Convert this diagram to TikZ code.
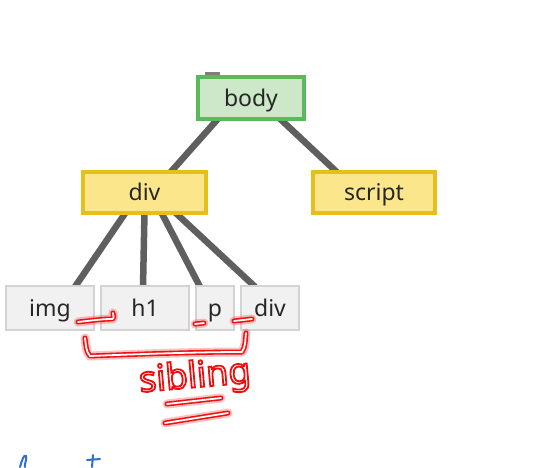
\documentclass[tikz,border=0pt]{standalone}
\usepackage{fontspec}
\setmainfont{Noto Sans}
\newfontfamily\handfont{Noto Sans}
\usetikzlibrary{calc}
\pgfdeclarelayer{bg}\pgfsetlayers{bg,main}
\definecolor{gfill}{HTML}{CDE8C9}
\definecolor{gdraw}{HTML}{5CB85C}
\definecolor{yfill}{HTML}{FCE68C}
\definecolor{ydraw}{HTML}{E6BF1A}
\definecolor{lfill}{HTML}{F1F1F1}
\definecolor{ldraw}{HTML}{D3D3D3}
\definecolor{edgec}{HTML}{5F5F5F}
\definecolor{glowred}{HTML}{F01010}
\definecolor{inkblue}{HTML}{2E6FD0}
\newcommand{\outlinedtext}[1]{\special{pdf:code 2 Tr 1.8 w 0.94 0.06 0.06 RG}#1\special{pdf:code 0 Tr}}
\tikzset{
  box/.style={rectangle, inner sep=0pt, font=\fontsize{23}{26}\selectfont, text=black!85, text height=22pt, text depth=6pt},
  greenbox/.style={box, fill=gfill, draw=gdraw, line width=3.5pt},
  yellowbox/.style={box, fill=yfill, draw=ydraw, line width=3.5pt},
  graybox/.style={box, fill=lfill, draw=ldraw, line width=2.5pt},
  edge/.style={draw=edgec, line width=6.5pt},
  glowa/.style={draw=glowred, line width=9pt, opacity=0.25, line cap=round, line join=round},
  glowb/.style={draw=glowred, line width=5pt, line cap=round, line join=round},
  glowc/.style={draw=white, line width=1.8pt, line cap=round, line join=round},
}
\begin{document}
\begin{tikzpicture}[x=1pt,y=-1pt]
\useasboundingbox (0,0) rectangle (539,467);
% nodes
\node[greenbox, minimum width=106pt, minimum height=42pt] (body) at (251,98) {body};
\node[yellowbox, minimum width=123pt, minimum height=41pt] (div) at (144.5,192.5) {div};
\node[yellowbox, minimum width=122pt, minimum height=41pt] (script) at (374,192.5) {script};
\node[graybox, minimum width=88pt, minimum height=44pt] (img) at (50,308) {img};
\node[graybox, minimum width=88pt, minimum height=44pt] (h1) at (145,308) {h1};
\node[graybox, minimum width=38pt, minimum height=44pt] (p) at (215,308) {p};
\node[graybox, minimum width=58pt, minimum height=44pt] (div2) at (270,308) {div};
% edges (behind nodes)
\begin{pgfonlayer}{bg}
\fill[white] (0,0) rectangle (539,467);
\draw[edgec!80, line width=3pt] ($(body.north west)+(9,-2)$) -- ($(body.north west)+(24,-2)$);
\draw[edge] ($(body.south)+(-33,-2)$) -- ($(div.north)+(26,2)$);
\draw[edge] ($(body.south)+(29,-2)$) -- ($(script.north)+(-37,2)$);
\draw[edge] ($(div.south)+(-19,-2)$) -- ($(img.north)+(25,2)$);
\draw[edge] ($(div.south)+(0,-2)$) -- ($(h1.north)+(-2,2)$);
\draw[edge] ($(div.south)+(17,-2)$) -- ($(p.north)+(-15,2)$);
\draw[edge] ($(div.south)+(31,-2)$) -- ($(div2.north)+(-15,2)$);
\end{pgfonlayer}
% red hand annotations
\coordinate (u1a) at (78,322);
\coordinate (u1b) at (113,313);
\coordinate (u2a) at (195,324);
\coordinate (u2b) at (204,323);
\coordinate (u3a) at (234,321);
\coordinate (u3b) at (252,319);
\coordinate (bra) at (85,338);
\coordinate (brb) at (246,333);
\coordinate (ul1a) at (167,404);
\coordinate (ul1b) at (221,398);
\coordinate (ul2a) at (165,423);
\coordinate (ul2b) at (228,413);
\foreach \s in {glowa,glowb,glowc}{
  \draw[\s] (u1a) .. controls (95,320) and (105,319) .. (110,319) .. controls (114,319) .. (u1b);
  \draw[\s] (u2a) -- (u2b);
  \draw[\s] (u3a) -- (u3b);
  \draw[\s] (bra) .. controls (86,345) and (86,352) .. (90,356) .. controls (140,354) and (200,352) .. (242,352) .. controls (246,346) and (245,340) .. (brb);
  \draw[\s] (ul1a) -- (ul1b);
  \draw[\s] (ul2a) -- (ul2b);
}
\node[font=\handfont\fontsize{36}{38}\selectfont, text=white, rotate=5] (sib) at (195,378) {\outlinedtext{sibling}};
% blue ink at bottom
\coordinate (bl1) at (20,467);
\coordinate (bl2) at (93,455);
\draw[inkblue, line width=2pt, line cap=round] (bl1) .. controls (22,460) and (24,454) .. (26,456) .. controls (27,460) and (24,465) .. (25,467);
\draw[inkblue, line width=2pt, line cap=round] (bl2) -- (92,467);
\draw[inkblue, line width=2pt, line cap=round] (87,460) -- (100,459);
\end{tikzpicture}
\end{document}
